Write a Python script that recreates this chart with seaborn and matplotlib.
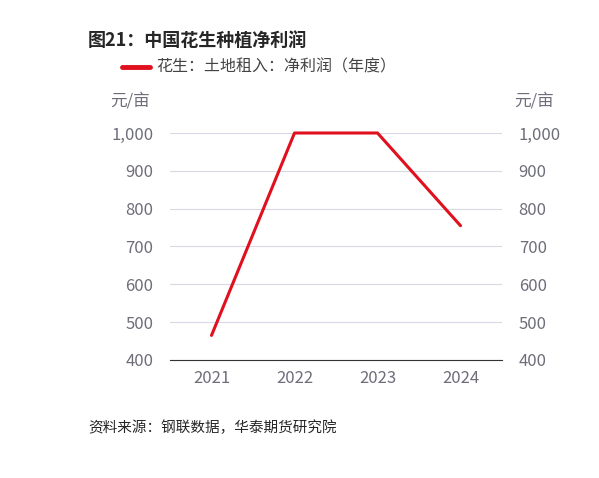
import matplotlib.pyplot as plt
import seaborn as sns
import pandas as pd

years = [2021, 2022, 2023, 2024]
profit = [465, 1000, 1000, 755]
yticks = [400, 500, 600, 700, 800, 900, 1000]

sns.set_style("white")
plt.rcParams['font.family'] = ['Noto Sans CJK SC', 'DejaVu Sans']

df = pd.DataFrame({"year": years, "profit": profit})

fig = plt.figure(figsize=(5.99, 4.78), dpi=100)
ax = fig.add_axes([170 / 599, 1 - 360 / 478, 332 / 599, 227 / 478])
sns.lineplot(data=df, x="year", y="profit", ax=ax, color="#e0101e", linewidth=2.2,
             label="花生：土地租入：净利润（年度）", legend=False, clip_on=False)
ax.set_xlim(2020.5, 2024.5)
ax.set_ylim(400, 1000)
ax.set_yticks(yticks)
ax.set_yticklabels([f"{v:,}" for v in yticks])
ax.set_xticks(years)
ax.set_xticks([2020.5, 2021.5, 2022.5, 2023.5, 2024.5], minor=True)
ax.grid(axis="y", color="#d8d8e6", linewidth=0.8)
for s in ["top", "left", "right"]:
    ax.spines[s].set_visible(False)
ax.spines["bottom"].set_color("#333333")
tc = "#6e6e7a"
ax.tick_params(axis="x", which="major", length=0, colors=tc, labelsize=12, pad=7)
ax.tick_params(axis="x", which="minor", length=6, width=1, direction="in", color="#333333")
ax.tick_params(axis="y", length=0, colors=tc, labelsize=12, pad=12)
ax.set_xlabel("")
ax.set_ylabel("")

ax2 = ax.twinx()
ax2.set_ylim(400, 1000)
ax2.set_yticks(yticks)
ax2.set_yticklabels([f"{v:,}" for v in yticks])
ax2.tick_params(axis="y", length=0, colors=tc, labelsize=12, pad=12)
for s in ["top", "left", "right", "bottom"]:
    ax2.spines[s].set_visible(False)

fig.text(88 / 599, 1 - 40 / 478, "图21：中国花生种植净利润", fontsize=13, fontweight="bold", va="center")
fig.lines.append(plt.Line2D([122 / 599, 150 / 599], [1 - 67 / 478] * 2, color="#e0101e",
                            linewidth=3.5, transform=fig.transFigure))
fig.text(156 / 599, 1 - 67 / 478, "花生：土地租入：净利润（年度）", fontsize=11.5, color="#444444", va="center")
fig.text(110 / 599, 1 - 101 / 478, "元/亩", fontsize=12, color=tc, va="center")
fig.text(514 / 599, 1 - 101 / 478, "元/亩", fontsize=12, color=tc, va="center")
fig.text(88 / 599, 1 - 428 / 478, "资料来源：钢联数据，华泰期货研究院", fontsize=10.5, style="italic", va="center")

fig.savefig("out.png", dpi=100)
